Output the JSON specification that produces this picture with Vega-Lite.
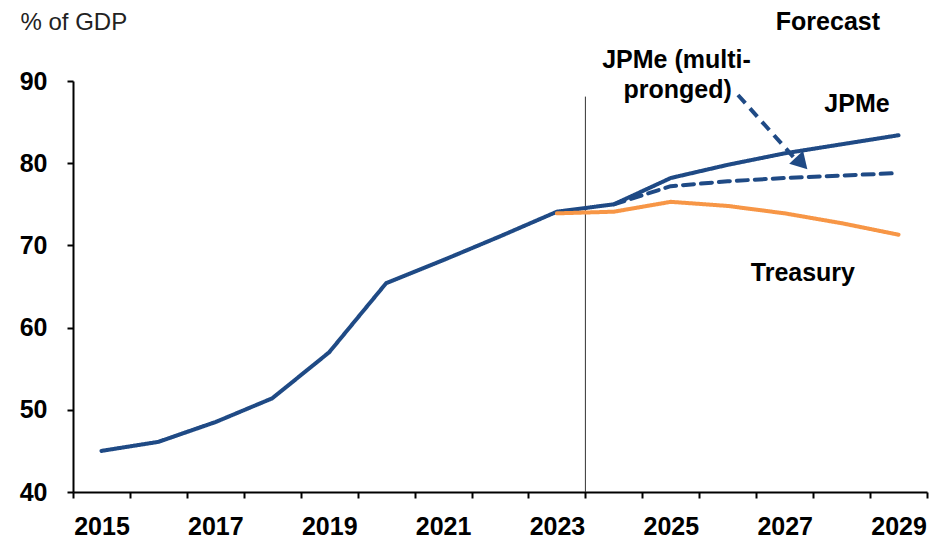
{
  "$schema": "https://vega.github.io/schema/vega-lite/v6.json",
  "autosize": "none",
  "width": 854,
  "height": 411,
  "padding": {"left": 73, "top": 81, "right": 15, "bottom": 53},
  "background": "white",
  "config": {
    "view": {"stroke": null},
    "font": "Liberation Sans",
    "axis": {"grid": false}
  },
  "datasets": {
    "series": [
      {"year": 2015, "value": 45.0, "series": "JPMe"},
      {"year": 2016, "value": 46.1, "series": "JPMe"},
      {"year": 2017, "value": 48.5, "series": "JPMe"},
      {"year": 2018, "value": 51.4, "series": "JPMe"},
      {"year": 2019, "value": 57.0, "series": "JPMe"},
      {"year": 2020, "value": 65.4, "series": "JPMe"},
      {"year": 2021, "value": 68.2, "series": "JPMe"},
      {"year": 2022, "value": 71.1, "series": "JPMe"},
      {"year": 2023, "value": 74.1, "series": "JPMe"},
      {"year": 2024, "value": 75.0, "series": "JPMe"},
      {"year": 2025, "value": 78.2, "series": "JPMe"},
      {"year": 2026, "value": 79.8, "series": "JPMe"},
      {"year": 2027, "value": 81.2, "series": "JPMe"},
      {"year": 2028, "value": 82.3, "series": "JPMe"},
      {"year": 2029, "value": 83.4, "series": "JPMe"},
      {"year": 2023, "value": 73.9, "series": "Treasury"},
      {"year": 2024, "value": 74.1, "series": "Treasury"},
      {"year": 2025, "value": 75.3, "series": "Treasury"},
      {"year": 2026, "value": 74.8, "series": "Treasury"},
      {"year": 2027, "value": 73.9, "series": "Treasury"},
      {"year": 2028, "value": 72.7, "series": "Treasury"},
      {"year": 2029, "value": 71.3, "series": "Treasury"},
      {"year": 2024, "value": 75.0, "series": "JPMe (multi-pronged)"},
      {"year": 2025, "value": 77.2, "series": "JPMe (multi-pronged)"},
      {"year": 2026, "value": 77.8, "series": "JPMe (multi-pronged)"},
      {"year": 2027, "value": 78.2, "series": "JPMe (multi-pronged)"},
      {"year": 2028, "value": 78.5, "series": "JPMe (multi-pronged)"},
      {"year": 2029, "value": 78.8, "series": "JPMe (multi-pronged)"}
    ],
    "labels": [
      {"x": 2027.76, "y": 97.2, "text": "Forecast"},
      {"x": 2025.1, "y": 92.5, "text": "JPMe (multi-"},
      {"x": 2025.12, "y": 88.9, "text": "pronged)"},
      {"x": 2028.27, "y": 87.2, "text": "JPMe"},
      {"x": 2027.32, "y": 66.6, "text": "Treasury"}
    ],
    "divider": [{"x": 2023.5, "y": 40, "y2": 88.1}],
    "arrow": [{"x": 2026.18, "y": 88.3, "x2": 2027.2, "y2": 80.4}],
    "arrowhead": [{"x": 2027.3, "y": 80.0}]
  },
  "layer": [
    {
      "data": {"name": "divider"},
      "mark": {"type": "rule", "color": "#333333", "strokeWidth": 1},
      "encoding": {
        "x": {
          "field": "x", "type": "quantitative",
          "scale": {"domain": [2014.5, 2029.5], "nice": false, "zero": false},
          "axis": {
            "values": [2014.5, 2015.5, 2016.5, 2017.5, 2018.5, 2019.5, 2020.5, 2021.5, 2022.5, 2023.5, 2024.5, 2025.5, 2026.5, 2027.5, 2028.5, 2029.5],
            "title": null,
            "labelExpr": "(datum.value + 0.5) % 2 == 1 && datum.value < 2029 ? '' + (datum.value + 0.5) : ''",
            "labelOffset": 28.5,
            "labelOverlap": false,
            "labelBound": false,
            "labelFlush": false,
            "labelFont": "Liberation Sans",
            "labelFontSize": 25,
            "labelFontWeight": "bold",
            "labelColor": "#000000",
            "labelPadding": 16,
            "domainColor": "#000000",
            "domainWidth": 2,
            "tickColor": "#000000",
            "tickWidth": 2,
            "tickSize": 6
          }
        },
        "y": {
          "field": "y", "type": "quantitative",
          "scale": {"domain": [40, 90], "nice": false, "zero": false},
          "axis": {
            "values": [40, 50, 60, 70, 80, 90],
            "title": "% of GDP",
            "titleAngle": 0,
            "titleAlign": "left",
            "titleBaseline": "middle",
            "titleX": -53,
            "titleY": -59,
            "titleFont": "Liberation Sans",
            "titleFontSize": 24,
            "titleFontWeight": "normal",
            "titleColor": "#222222",
            "labelFont": "Liberation Sans",
            "labelFontSize": 25,
            "labelFontWeight": "bold",
            "labelColor": "#000000",
            "labelPadding": 20,
            "domainColor": "#000000",
            "domainWidth": 2,
            "tickColor": "#000000",
            "tickWidth": 2,
            "tickSize": 6
          }
        },
        "y2": {"field": "y2"}
      }
    },
    {
      "data": {"name": "series"},
      "mark": {"type": "line", "strokeWidth": 4, "strokeJoin": "round", "strokeCap": "round"},
      "encoding": {
        "x": {"field": "year", "type": "quantitative"},
        "y": {"field": "value", "type": "quantitative"},
        "detail": {"field": "series"},
        "order": {"field": "year"},
        "color": {
          "field": "series", "type": "nominal", "legend": null,
          "scale": {"domain": ["JPMe", "Treasury", "JPMe (multi-pronged)"], "range": ["#1F4A85", "#F79646", "#1F4A85"]}
        },
        "strokeDash": {
          "field": "series", "type": "nominal", "legend": null,
          "scale": {"domain": ["JPMe", "Treasury", "JPMe (multi-pronged)"], "range": [[1, 0], [1, 0], [11, 7]]}
        },
        "strokeWidth": {
          "field": "series", "type": "nominal", "legend": null,
          "scale": {"domain": ["JPMe", "Treasury", "JPMe (multi-pronged)"], "range": [4, 3.5, 4]}
        }
      }
    },
    {
      "data": {"name": "arrow"},
      "mark": {"type": "rule", "color": "#1F4A85", "strokeWidth": 4, "strokeDash": [11, 7]},
      "encoding": {
        "x": {"field": "x", "type": "quantitative"},
        "y": {"field": "y", "type": "quantitative"},
        "x2": {"field": "x2"},
        "y2": {"field": "y2"}
      }
    },
    {
      "data": {"name": "arrowhead"},
      "mark": {"type": "point", "shape": "triangle-up", "filled": true, "color": "#1F4A85", "size": 360, "angle": 137, "opacity": 1},
      "encoding": {
        "x": {"field": "x", "type": "quantitative"},
        "y": {"field": "y", "type": "quantitative"}
      }
    },
    {
      "data": {"name": "labels"},
      "mark": {"type": "text", "font": "Liberation Sans", "fontSize": 25, "fontWeight": "bold", "color": "#000000", "align": "center", "baseline": "middle"},
      "encoding": {
        "x": {"field": "x", "type": "quantitative"},
        "y": {"field": "y", "type": "quantitative"},
        "text": {"field": "text"}
      }
    }
  ]
}
